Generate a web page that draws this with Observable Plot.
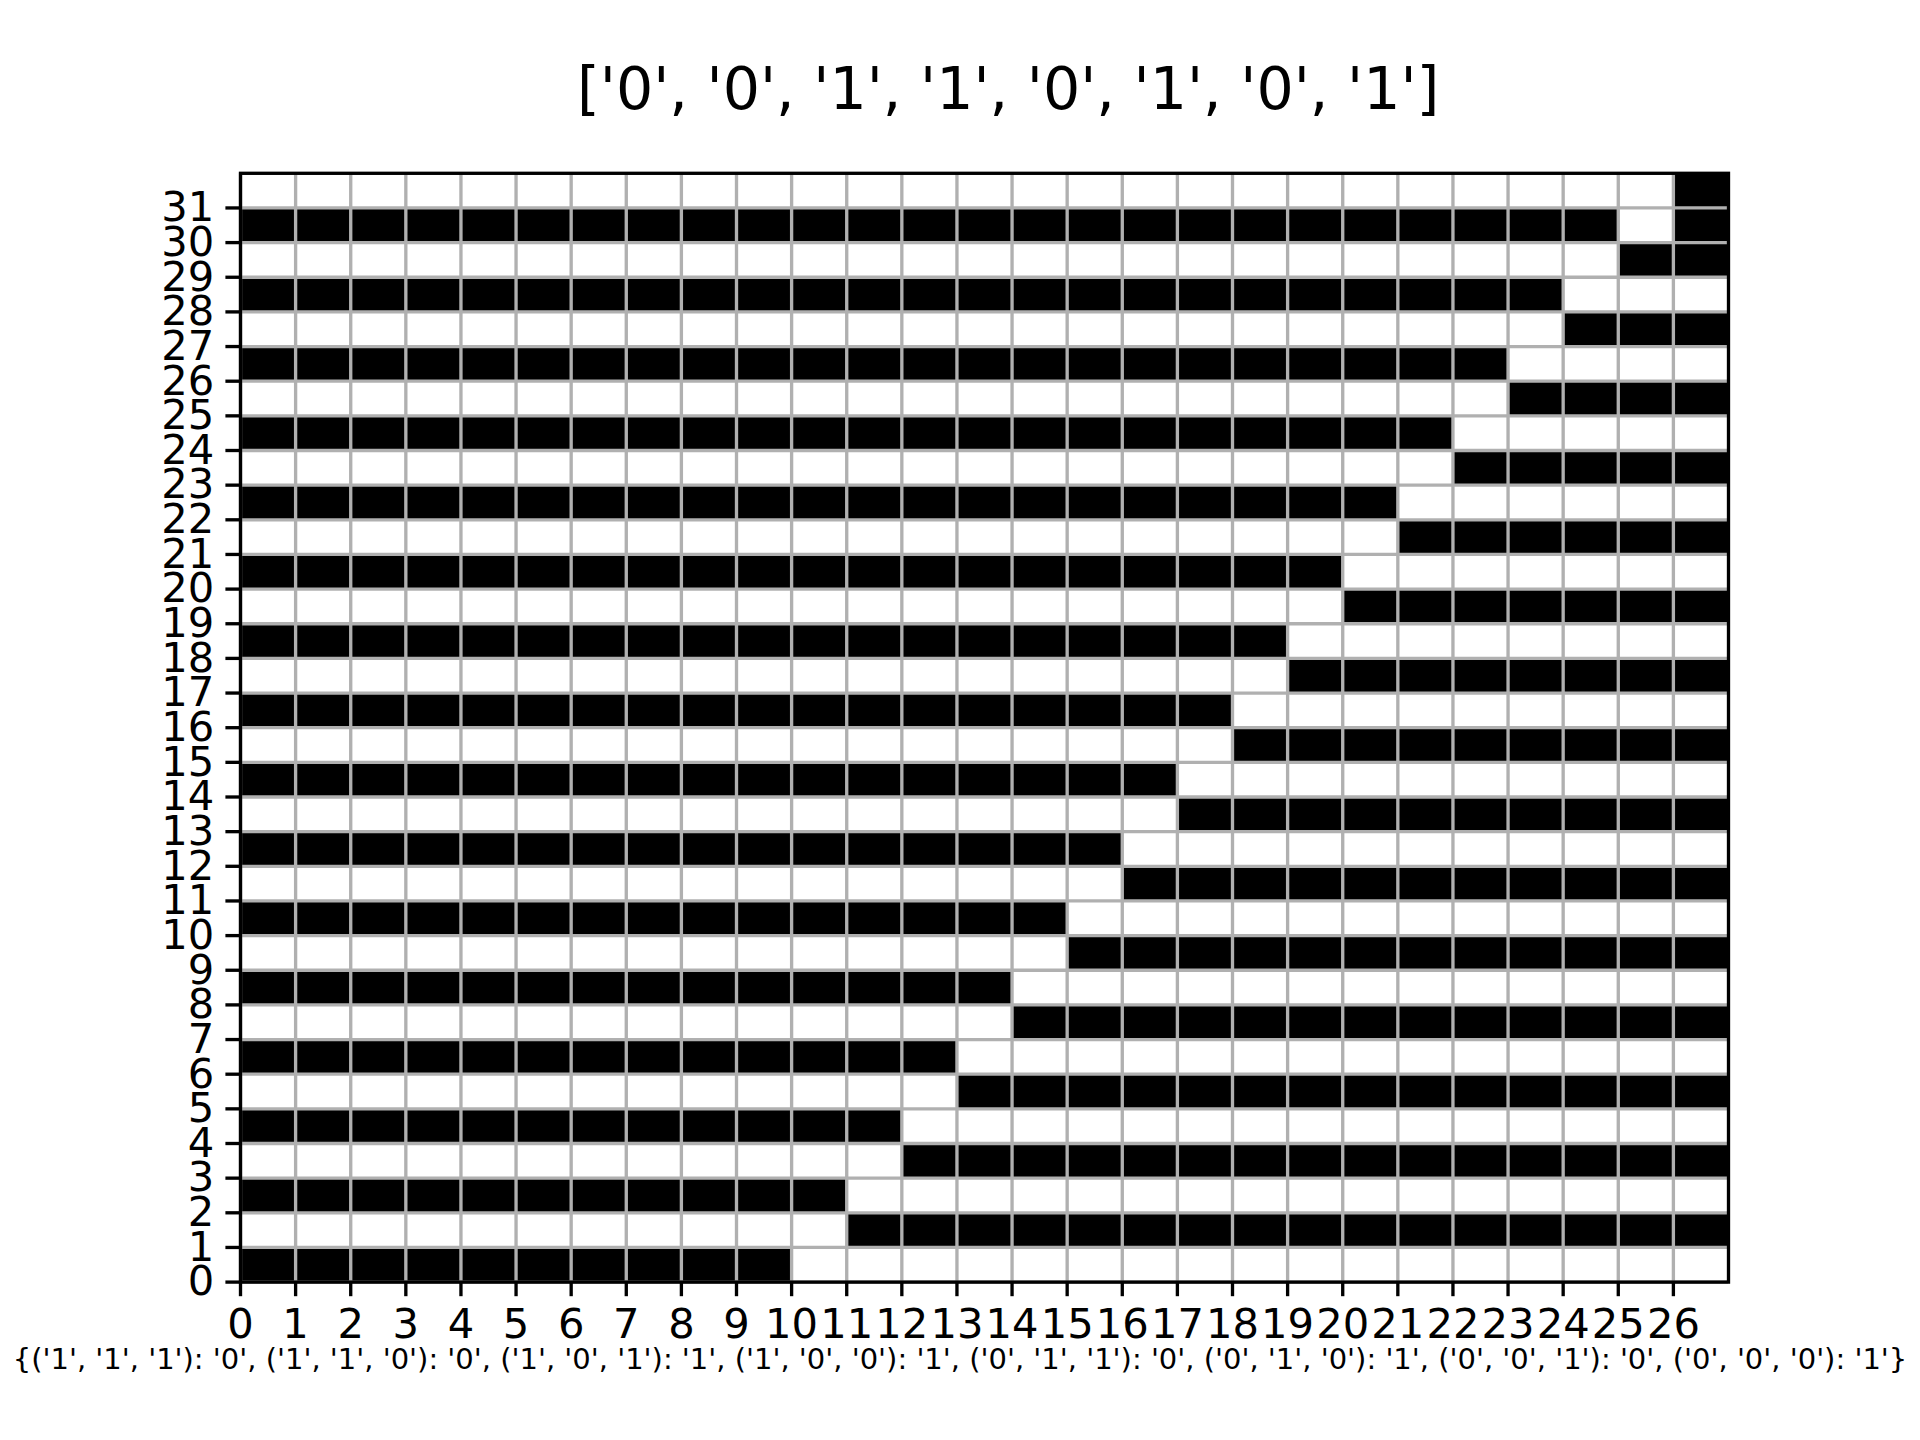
<!DOCTYPE html>
<html>
<head>
<meta charset="utf-8">
<script src="https://cdn.jsdelivr.net/npm/d3@7"></script>
<script src="https://cdn.jsdelivr.net/npm/@observablehq/plot@0.6"></script>
<style>
  html, body { margin: 0; padding: 0; background: #ffffff; }
  #fig { position: relative; width: 1920px; height: 1440px; background: #ffffff; font-family: "DejaVu Sans", sans-serif; color: #000; }
  #title { position: absolute; left: 577px; top: 0; font-size: 58.6px; line-height: 1; white-space: pre; }
  #chart { position: absolute; left: 0; top: 130px; }
  #caption { position: absolute; left: 0; width: 1920px; text-align: center; font-size: 29px; line-height: 1; white-space: pre; }
</style>
</head>
<body>
<div id="fig">
  <div id="title"></div>
  <div id="chart"></div>
  <div id="caption"></div>
</div>
<script>
// ---- data ----
const titleBits = ['0', '0', '1', '1', '0', '1', '0', '1'];
const ruleKeys = [['1','1','1'], ['1','1','0'], ['1','0','1'], ['1','0','0'], ['0','1','1'], ['0','1','0'], ['0','0','1'], ['0','0','0']];
const ruleVals = ['0', '0', '1', '1', '0', '1', '0', '1'];
const xTicks = [0,1,2,3,4,5,6,7,8,9,10,11,12,13,14,15,16,17,18,19,20,21,22,23,24,25,26];
const yTicks = [0,1,2,3,4,5,6,7,8,9,10,11,12,13,14,15,16,17,18,19,20,21,22,23,24,25,26,27,28,29,30,31];
// rows listed from bottom (row 0) to top (row 31); 1 = black cell, 0 = white cell
const rows = [
  "11111 11111 00000 00000 00000 00",
  "00000 00000 01111 11111 11111 11",
  "11111 11111 10000 00000 00000 00",
  "00000 00000 00111 11111 11111 11",
  "11111 11111 11000 00000 00000 00",
  "00000 00000 00011 11111 11111 11",
  "11111 11111 11100 00000 00000 00",
  "00000 00000 00001 11111 11111 11",
  "11111 11111 11110 00000 00000 00",
  "00000 00000 00000 11111 11111 11",
  "11111 11111 11111 00000 00000 00",
  "00000 00000 00000 01111 11111 11",
  "11111 11111 11111 10000 00000 00",
  "00000 00000 00000 00111 11111 11",
  "11111 11111 11111 11000 00000 00",
  "00000 00000 00000 00011 11111 11",
  "11111 11111 11111 11100 00000 00",
  "00000 00000 00000 00001 11111 11",
  "11111 11111 11111 11110 00000 00",
  "00000 00000 00000 00000 11111 11",
  "11111 11111 11111 11111 00000 00",
  "00000 00000 00000 00000 01111 11",
  "11111 11111 11111 11111 10000 00",
  "00000 00000 00000 00000 00111 11",
  "11111 11111 11111 11111 11000 00",
  "00000 00000 00000 00000 00011 11",
  "11111 11111 11111 11111 11100 00",
  "00000 00000 00000 00000 00001 11",
  "11111 11111 11111 11111 11110 00",
  "00000 00000 00000 00000 00000 11",
  "11111 11111 11111 11111 11111 01",
  "00000 00000 00000 00000 00000 01"
];

// ---- build table ----
const cells = [];
rows.forEach((s, r) => {
  const bits = s.replace(/\s/g, "");
  if (bits.length !== 27) throw new Error("row " + r + " has length " + bits.length);
  for (let c = 0; c < bits.length; c++) cells.push({col: c, row: r, v: +bits[c]});
});

const q = s => "'" + s + "'";
document.getElementById("title").textContent = "[" + titleBits.map(q).join(", ") + "]";
document.getElementById("caption").textContent =
  "{" + ruleKeys.map((k, i) => "(" + k.map(q).join(", ") + "): " + q(ruleVals[i])).join(", ") + "}";

// ---- layout (px) ----
const LW = 3.33;          // 0.8pt line width
const TICK = 14.6;        // 3.5pt
const FS = 41.67;         // 10pt tick labels

const chart = Plot.plot({
  width: 1920,
  height: 1218,
  marginLeft: 240,
  marginRight: 192,
  marginTop: 42.8,
  marginBottom: 66.4,
  style: {fontFamily: "DejaVu Sans", fontSize: FS + "px", background: "#ffffff", color: "#000000", overflow: "visible"},
  x: {domain: [0, 27], label: null},
  y: {domain: [0, 32], label: null},
  color: {type: "ordinal", domain: [0, 1], range: ["#ffffff", "#000000"]},
  marks: [
    Plot.rect(cells, {x1: "col", x2: d => d.col + 1, y1: "row", y2: d => d.row + 1, fill: "v"}),
    Plot.gridX({ticks: xTicks, stroke: "#b0b0b0", strokeOpacity: 1, strokeWidth: LW}),
    Plot.gridY({ticks: yTicks, stroke: "#b0b0b0", strokeOpacity: 1, strokeWidth: LW}),
    Plot.frame({stroke: "#000000", strokeWidth: LW}),
    Plot.axisX({ticks: xTicks, tickFormat: d => String(d), tickSize: TICK, tickPadding: TICK - 3, strokeWidth: LW, fontSize: FS, label: null}),
    Plot.axisY({ticks: yTicks, tickFormat: d => String(d), tickSize: TICK, tickPadding: TICK - 3, strokeWidth: LW, fontSize: FS, label: null})
  ]
});
document.getElementById("chart").appendChild(chart);

// position title and caption baselines (title baseline ~110px, caption baseline ~1370px)
const titleEl = document.getElementById("title");
titleEl.style.top = (110 - 0.846 * 58.6) + "px";
const capEl = document.getElementById("caption");
capEl.style.top = (1370 - 0.846 * 29) + "px";
</script>
</body>
</html>
